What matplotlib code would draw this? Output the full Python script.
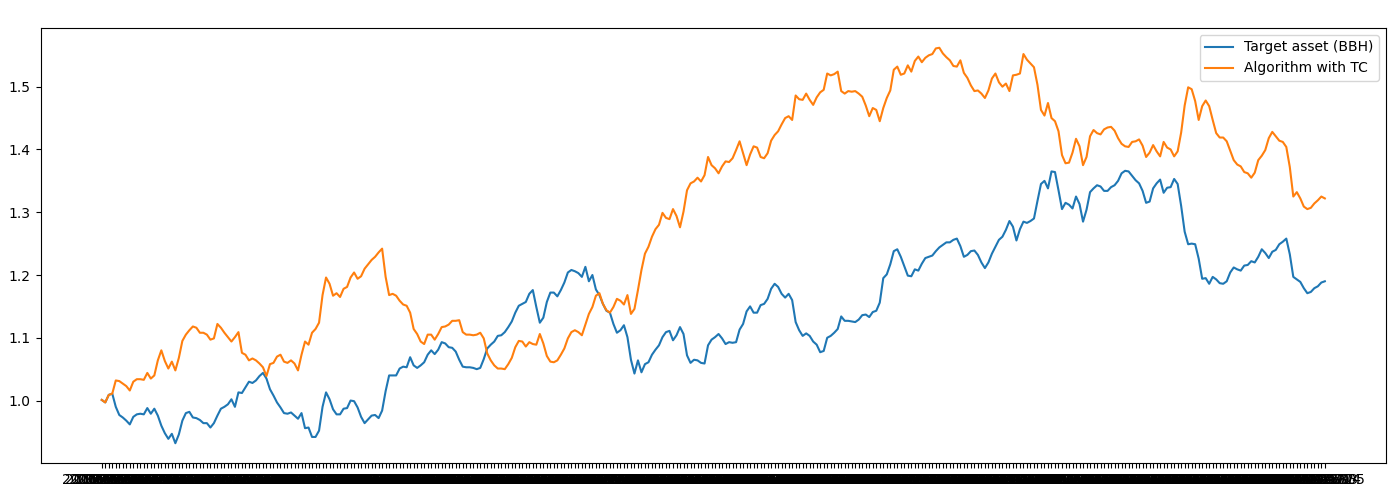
import numpy as np
import pandas as pd
import matplotlib
matplotlib.use("Agg")
import matplotlib.pyplot as plt

# cumulative value of the target asset (BBH)
target_asset = [
    1.001, 0.997, 1.009, 1.011, 0.990, 0.977, 0.973, 0.968, 0.962, 0.974, 0.978, 0.979, 0.978, 0.988, 0.979,
    0.987, 0.976, 0.960, 0.948, 0.939, 0.947, 0.932, 0.946, 0.968, 0.980, 0.982, 0.973, 0.972, 0.969, 0.964,
    0.964, 0.957, 0.964, 0.976, 0.987, 0.990, 0.994, 1.002, 0.990, 1.013, 1.012, 1.021, 1.030, 1.028,
    1.032, 1.039, 1.044, 1.035, 1.018, 1.008, 0.997, 0.989, 0.980, 0.979, 0.981, 0.976, 0.971, 0.980, 0.956,
    0.957, 0.942, 0.942, 0.952, 0.990, 1.013, 1.002, 0.986, 0.978, 0.978, 0.987, 0.988, 1.000, 0.999, 0.989,
    0.974, 0.964, 0.970, 0.976, 0.977, 0.972, 0.984, 1.015, 1.040, 1.040, 1.040, 1.051, 1.054, 1.053, 1.069, 1.056,
    1.052, 1.056, 1.061, 1.073, 1.080, 1.074, 1.081, 1.093, 1.091, 1.085, 1.084, 1.078, 1.065, 1.054, 1.053,
    1.053, 1.052, 1.050, 1.052, 1.066, 1.083, 1.089, 1.094, 1.103, 1.104, 1.109, 1.117, 1.126, 1.140, 1.151,
    1.154, 1.157, 1.170, 1.176, 1.149, 1.124, 1.132, 1.157, 1.172, 1.172, 1.166, 1.176, 1.188, 1.204, 1.208, 1.206,
    1.203, 1.197, 1.213, 1.190, 1.200, 1.177, 1.168, 1.154, 1.143, 1.140, 1.122, 1.108, 1.112, 1.120, 1.101,
    1.065, 1.043, 1.064, 1.045, 1.058, 1.061, 1.073, 1.081, 1.088, 1.101, 1.109, 1.111, 1.096, 1.104, 1.117,
    1.106, 1.072, 1.060, 1.065, 1.064, 1.060, 1.059, 1.088, 1.097, 1.101, 1.106, 1.099, 1.090, 1.093, 1.092, 1.093,
    1.113, 1.122, 1.142, 1.150, 1.140, 1.140, 1.152, 1.154, 1.162, 1.178, 1.186, 1.181, 1.170, 1.164, 1.170,
    1.160, 1.125, 1.112, 1.103, 1.107, 1.103, 1.094, 1.089, 1.077, 1.079, 1.100, 1.103, 1.108, 1.114, 1.134,
    1.127, 1.127, 1.126, 1.125, 1.129, 1.136, 1.137, 1.133, 1.141, 1.143, 1.156, 1.195, 1.201, 1.217, 1.238,
    1.241, 1.229, 1.214, 1.199, 1.198, 1.209, 1.207, 1.218, 1.227, 1.229, 1.231, 1.238, 1.244, 1.248, 1.252,
    1.252, 1.256, 1.258, 1.246, 1.229, 1.232, 1.238, 1.239, 1.232, 1.220, 1.211, 1.220, 1.234, 1.245, 1.256,
    1.261, 1.272, 1.286, 1.277, 1.255, 1.273, 1.285, 1.283, 1.286, 1.290, 1.318, 1.345, 1.350, 1.338, 1.365, 1.364,
    1.335, 1.305, 1.315, 1.312, 1.306, 1.325, 1.313, 1.285, 1.304, 1.332, 1.338, 1.343, 1.341, 1.334, 1.334,
    1.340, 1.343, 1.350, 1.362, 1.366, 1.365, 1.358, 1.351, 1.346, 1.334, 1.315, 1.317, 1.338, 1.346, 1.352,
    1.331, 1.339, 1.340, 1.353, 1.345, 1.310, 1.269, 1.249, 1.250, 1.249, 1.226, 1.194, 1.195, 1.186, 1.197, 1.193,
    1.187, 1.186, 1.190, 1.204, 1.212, 1.209, 1.207, 1.215, 1.216, 1.222, 1.220, 1.229, 1.241, 1.235, 1.227,
    1.237, 1.240, 1.249, 1.253, 1.258, 1.233, 1.197, 1.193, 1.189, 1.179, 1.171, 1.173, 1.179, 1.182, 1.188, 1.190,
]

# cumulative value of the algorithm with transaction costs
algo_tc = [
    1.001, 0.997, 1.009, 1.011, 1.032, 1.031, 1.027, 1.023, 1.016, 1.030, 1.034, 1.034, 1.033, 1.044, 1.035,
    1.040, 1.064, 1.080, 1.063, 1.051, 1.062, 1.048, 1.068, 1.095, 1.105, 1.112, 1.118, 1.116, 1.108, 1.108,
    1.105, 1.097, 1.099, 1.122, 1.116, 1.108, 1.101, 1.094, 1.101, 1.109, 1.076, 1.073, 1.064, 1.067,
    1.064, 1.059, 1.053, 1.039, 1.058, 1.060, 1.070, 1.073, 1.062, 1.060, 1.064, 1.059, 1.048, 1.073, 1.094,
    1.089, 1.108, 1.114, 1.124, 1.168, 1.196, 1.186, 1.167, 1.171, 1.165, 1.178, 1.181, 1.196, 1.204, 1.194,
    1.198, 1.210, 1.217, 1.224, 1.229, 1.236, 1.242, 1.197, 1.168, 1.170, 1.167, 1.159, 1.153, 1.151, 1.140, 1.114,
    1.106, 1.094, 1.090, 1.105, 1.105, 1.097, 1.106, 1.117, 1.118, 1.121, 1.127, 1.127, 1.128, 1.109, 1.105,
    1.105, 1.104, 1.105, 1.108, 1.099, 1.075, 1.064, 1.056, 1.051, 1.051, 1.050, 1.058, 1.068, 1.085, 1.095,
    1.094, 1.086, 1.093, 1.090, 1.089, 1.106, 1.091, 1.071, 1.062, 1.061, 1.064, 1.073, 1.083, 1.099, 1.109, 1.112,
    1.109, 1.104, 1.121, 1.138, 1.149, 1.167, 1.171, 1.154, 1.144, 1.140, 1.149, 1.162, 1.159, 1.153, 1.168,
    1.138, 1.146, 1.176, 1.208, 1.234, 1.245, 1.261, 1.273, 1.280, 1.299, 1.291, 1.289, 1.305, 1.294, 1.276,
    1.301, 1.335, 1.346, 1.349, 1.355, 1.349, 1.359, 1.388, 1.375, 1.370, 1.362, 1.373, 1.381, 1.380, 1.386, 1.399,
    1.413, 1.394, 1.375, 1.392, 1.405, 1.403, 1.388, 1.386, 1.394, 1.414, 1.423, 1.429, 1.440, 1.450, 1.453,
    1.447, 1.486, 1.480, 1.479, 1.489, 1.479, 1.471, 1.483, 1.491, 1.495, 1.521, 1.518, 1.520, 1.524, 1.493,
    1.489, 1.493, 1.492, 1.493, 1.489, 1.484, 1.470, 1.453, 1.466, 1.463, 1.445, 1.466, 1.482, 1.494, 1.527,
    1.532, 1.519, 1.521, 1.534, 1.524, 1.541, 1.548, 1.539, 1.546, 1.550, 1.552, 1.561, 1.562, 1.553, 1.547,
    1.542, 1.533, 1.532, 1.542, 1.522, 1.514, 1.502, 1.493, 1.494, 1.489, 1.482, 1.494, 1.513, 1.521, 1.507,
    1.500, 1.505, 1.493, 1.518, 1.519, 1.521, 1.552, 1.543, 1.537, 1.531, 1.503, 1.463, 1.454, 1.474, 1.450, 1.445,
    1.429, 1.391, 1.378, 1.379, 1.395, 1.417, 1.405, 1.375, 1.388, 1.421, 1.431, 1.426, 1.424, 1.432, 1.435,
    1.436, 1.430, 1.418, 1.409, 1.405, 1.404, 1.412, 1.413, 1.416, 1.406, 1.388, 1.395, 1.407, 1.397, 1.389,
    1.412, 1.403, 1.400, 1.389, 1.397, 1.427, 1.470, 1.499, 1.496, 1.477, 1.447, 1.469, 1.478, 1.469, 1.447, 1.426,
    1.419, 1.419, 1.413, 1.398, 1.383, 1.376, 1.373, 1.364, 1.362, 1.355, 1.363, 1.383, 1.390, 1.399, 1.418,
    1.428, 1.421, 1.414, 1.412, 1.404, 1.372, 1.325, 1.332, 1.322, 1.309, 1.305, 1.307, 1.314, 1.319, 1.325, 1.322,
]

# trading days used as (categorical) x labels
dates = list(pd.bdate_range("2016-01-04", periods=len(target_asset)).strftime("%Y-%m-%d"))

assert len(target_asset) == len(algo_tc) == len(dates)

fig = plt.figure(figsize=(14, 5), dpi=100)
plt.plot(dates, target_asset, label="Target asset (BBH)")
plt.plot(dates, algo_tc, label="Algorithm with TC")
plt.legend(loc="upper right")
plt.subplots_adjust(left=0.029, right=0.990, top=0.944, bottom=0.074)
plt.savefig("out.png")
plt.close()
